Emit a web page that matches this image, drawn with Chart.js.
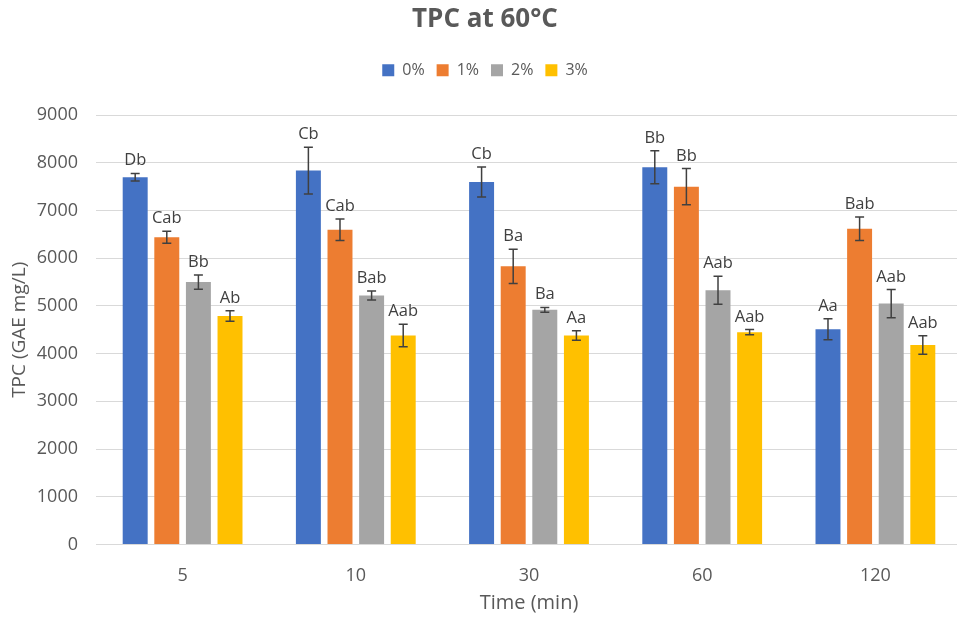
<!DOCTYPE html>
<html>
<head>
<meta charset="utf-8">
<script src="https://cdn.jsdelivr.net/npm/chart.js@4.4.0/dist/chart.umd.min.js"></script>
<style>
  html, body { margin: 0; padding: 0; background: #fff; overflow: hidden; }
  #wrap { width: 972px; height: 618px; }
</style>
</head>
<body>
<div id="wrap"><canvas id="chart1"></canvas></div>
<script>
// Data
const times = ['5', '10', '30', '60', '120'];
const seriesNames = ['0%', '1%', '2%', '3%'];

const tpc0 = [7700, 7840, 7600, 7910, 4510];
const tpc1 = [6440, 6600, 5830, 7500, 6620];
const tpc2 = [5500, 5220, 4920, 5330, 5050];
const tpc3 = [4790, 4380, 4380, 4450, 4180];

const err0 = [80, 490, 315, 345, 220];
const err1 = [125, 225, 360, 380, 245];
const err2 = [150, 95, 50, 295, 295];
const err3 = [112, 235, 100, 55, 195];

const letters0 = ['Db', 'Cb', 'Cb', 'Bb', 'Aa'];
const letters1 = ['Cab', 'Cab', 'Ba', 'Bb', 'Bab'];
const letters2 = ['Bb', 'Bab', 'Ba', 'Aab', 'Aab'];
const letters3 = ['Ab', 'Aab', 'Aa', 'Aab', 'Aab'];

const colors = ['#4472C4', '#ED7D31', '#A5A5A5', '#FFC000'];
const font = '"Open Sans", "Noto Sans", sans-serif';

const values = [tpc0, tpc1, tpc2, tpc3];
const errors = [err0, err1, err2, err3];
const letters = [letters0, letters1, letters2, letters3];

// error bars + significance letters
const errorBars = {
  id: 'errorBars',
  afterDatasetsDraw(chart) {
    const ctx = chart.ctx;
    const y = chart.scales.y;
    ctx.save();
    chart.data.datasets.forEach((ds, i) => {
      const meta = chart.getDatasetMeta(i);
      meta.data.forEach((bar, j) => {
        const v = ds.data[j];
        const e = errors[i][j];
        const top = y.getPixelForValue(v + e);
        const bot = y.getPixelForValue(v - e);
        ctx.strokeStyle = '#404040';
        ctx.lineWidth = 1.5;
        ctx.beginPath();
        ctx.moveTo(bar.x, top); ctx.lineTo(bar.x, bot);
        ctx.moveTo(bar.x - 4.5, top); ctx.lineTo(bar.x + 4.5, top);
        ctx.moveTo(bar.x - 4.5, bot); ctx.lineTo(bar.x + 4.5, bot);
        ctx.stroke();
        ctx.fillStyle = '#404040';
        ctx.font = '16.5px ' + font;
        ctx.textAlign = 'center';
        ctx.textBaseline = 'alphabetic';
        ctx.fillText(letters[i][j], bar.x, top - 8);
      });
    });
    ctx.restore();
  }
};

// extra room under the legend
const legendGap = {
  id: 'legendGap',
  beforeInit(chart) {
    const fit = chart.legend.fit;
    chart.legend.fit = function () {
      fit.bind(chart.legend)();
      this.height += 27;
    };
  }
};

const ctx = document.getElementById('chart1').getContext('2d');
new Chart(ctx, {
  type: 'bar',
  data: {
    labels: times,
    datasets: seriesNames.map((name, i) => ({
      label: name,
      data: values[i],
      backgroundColor: colors[i],
      borderColor: colors[i],
      borderWidth: 0,
      categoryPercentage: 0.73,
      barPercentage: 0.79
    }))
  },
  options: {
    responsive: true,
    maintainAspectRatio: false,
    animation: false,
    layout: { padding: { left: 8, right: 10, top: 4, bottom: 12 } },
    plugins: {
      title: {
        display: true,
        text: 'TPC at 60°C',
        color: '#595959',
        font: { family: font, size: 26, weight: 'bold' },
        padding: { top: 0, bottom: 15 }
      },
      legend: {
        position: 'top',
        labels: {
          color: '#595959',
          font: { family: font, size: 16 },
          boxWidth: 12,
          boxHeight: 12,
          padding: 12
        }
      },
      tooltip: { enabled: false }
    },
    scales: {
      x: {
        grid: { display: false },
        border: { display: false },
        ticks: { color: '#595959', font: { family: font, size: 18 }, padding: 13 },
        title: { display: true, text: 'Time (min)', color: '#595959', font: { family: font, size: 20, lineHeight: 0.3 }, padding: 0 }
      },
      y: {
        min: 0,
        max: 9000,
        border: { display: false },
        grid: { color: '#d9d9d9', lineWidth: 1, drawTicks: false },
        ticks: { stepSize: 1000, color: '#595959', font: { family: font, size: 18 }, padding: 18, callback: v => String(v) },
        title: { display: true, text: 'TPC (GAE mg/L)', color: '#595959', font: { family: font, size: 19 }, padding: 0 },
        afterFit(scale) { scale.width = 88; }
      }
    }
  },
  plugins: [errorBars, legendGap]
});
</script>
</body>
</html>
